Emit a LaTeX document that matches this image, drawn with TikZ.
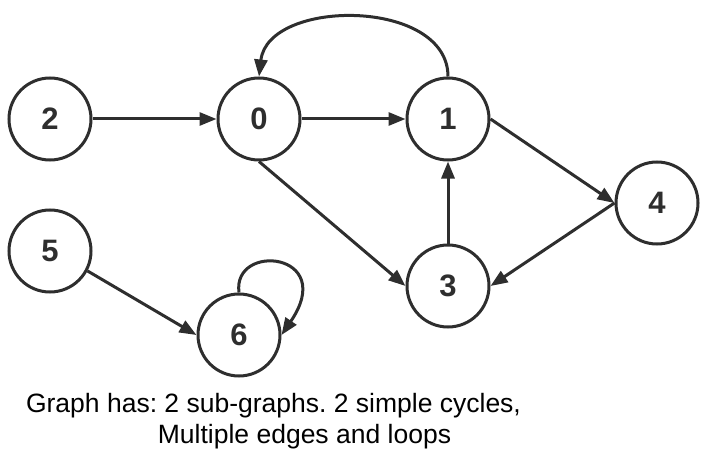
\documentclass[tikz,border=0pt]{standalone}
\usepackage{fontspec}
\setmainfont{Liberation Sans}
\usetikzlibrary{arrows.meta}
\definecolor{ink}{HTML}{2E2E2E}
\frenchspacing
\begin{document}
\begin{tikzpicture}[x=1pt,y=-1pt,
  vtx/.style={circle,draw=ink,line width=3pt,minimum size=82pt,inner sep=0pt,
    font=\fontsize{31}{31}\selectfont\bfseries,text=ink},
  edge/.style={draw=ink,line width=3pt,-{Triangle[length=17pt,width=13pt]}},
  captext/.style={font=\fontsize{26.5}{26.5}\selectfont,anchor=base,inner sep=0pt}]
\useasboundingbox (0,0) rectangle (708,473);
\node[vtx] (n2) at (50,119) {2};
\node[vtx] (n0) at (259,119) {0};
\node[vtx] (n1) at (448,119) {1};
\node[vtx] (n4) at (657,203) {4};
\node[vtx] (n3) at (448,286) {3};
\node[vtx] (n5) at (50,251) {5};
\node[vtx] (n6) at (239,335) {6};
\draw[edge] (n2.east) -- (n0.west);
\draw[edge] (n0.east) -- (n1.west);
\draw[edge] (n1.north) .. controls (448,-2) and (268,-2) .. (n0.north);
\draw[edge] (n1.east) -- (n4.west);
\draw[edge] (n4.west) -- (n3.east);
\draw[edge] (n3.north) -- (n1.south);
\draw[edge] (n0.south) -- (n3.west);
\draw[edge] (n5.-28) -- (n6.west);
\draw[edge] (n6.north) .. controls (232,242) and (338,252) .. (n6.east);
\node[captext] (t1) at (273.5,412) {Graph has: 2 sub-graphs. 2 simple cycles,};
\node[captext] (t2) at (304.5,443) {Multiple edges and loops};
\end{tikzpicture}
\end{document}
